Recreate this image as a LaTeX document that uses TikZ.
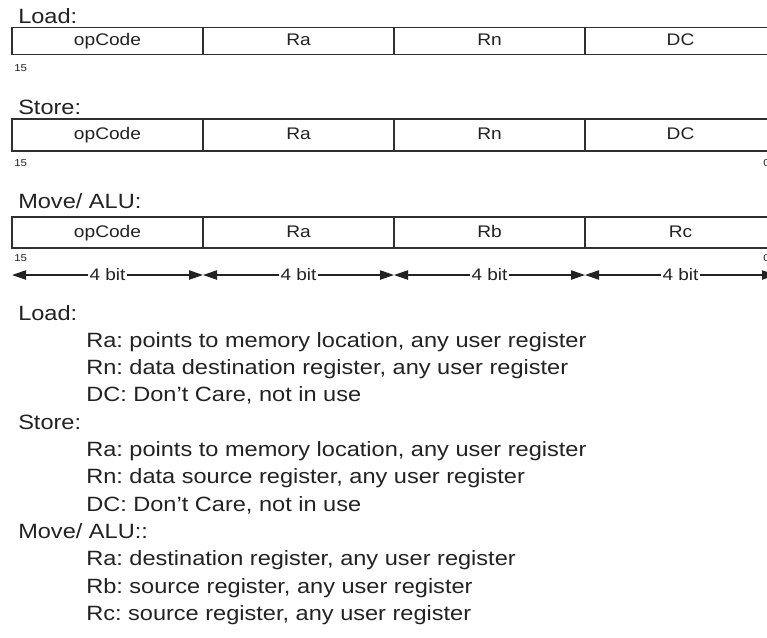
\documentclass[tikz,border=0pt]{standalone}
\usepackage{fontspec}
\setmainfont{Liberation Sans}[FakeStretch=1.14]
\usetikzlibrary{arrows.meta,positioning}
\frenchspacing

\definecolor{ink}{HTML}{222222}
\definecolor{rule}{HTML}{303030}

\tikzset{
  head/.style={anchor=base west, inner sep=0pt, text=ink, font=\fontsize{15.5}{18}\selectfont},
  field/.style={draw=rule, line width=1.1pt, minimum width=143.25pt, inner sep=0pt,
    text height=9.5pt, text depth=2.5pt, text=ink, font=\fontsize{12.6}{14}\selectfont},
  bitno/.style={anchor=base west, inner sep=0pt, text=ink, font=\fontsize{7.5}{9}\selectfont},
  bitspan/.style={draw=ink, line width=0.9pt, {Triangle[length=10.5pt,width=7pt]}-{Triangle[length=10.5pt,width=7pt]}},
  bitlabel/.style={fill=white, inner sep=1.5pt, text=ink, font=\fontsize{12.5}{14}\selectfont}
}

\begin{document}
\begin{tikzpicture}[x=0.75pt, y=-0.75pt]
  \useasboundingbox (0,0) rectangle (767,637);
  \clip (0,0) rectangle (767,637);

  % Load format
  \node[head] (loadhead) at (18,23) {Load:};
  \foreach \txt [count=\i] in {opCode,Ra,Rn,DC}
    \node[field, minimum height=20.6pt] (load\i) at ({107.5+191*(\i-1)},41) {\txt};
  \node[bitno] (loadmsb) at (14,71) {15};

  % Store format
  \node[head] (storehead) at (18,114) {Store:};
  \foreach \txt [count=\i] in {opCode,Ra,Rn,DC}
    \node[field, minimum height=24pt] (store\i) at ({107.5+191*(\i-1)},135) {\txt};
  \node[bitno] (storemsb) at (14,166) {15};
  \node[bitno] (storelsb) at (763,166) {0};

  % Move / ALU format
  \node[head] (aluhead) at (18,208) {Move/ ALU:};
  \foreach \txt [count=\i] in {opCode,Ra,Rb,Rc}
    \node[field, minimum height=23.25pt] (alu\i) at ({107.5+191*(\i-1)},232.5) {\txt};
  \node[bitno] (alumsb) at (14,261) {15};
  \node[bitno] (alulsb) at (763,261) {0};

  % Field widths
  \foreach \i in {1,...,5}
    \coordinate (w\i) at ({12+191*(\i-1)},275);
  \foreach \i in {1,...,4} {
    \pgfmathtruncatemacro{\j}{\i+1}
    \draw[bitspan] (w\i) -- node[bitlabel] (bit\i) {4 bit} (w\j);
  }

  % Field descriptions
  \node[head] (loadnote) at (18,320) {Load:};
  \node[head] (loadra) at (86,347.3) {Ra: points to memory location, any user register};
  \node[head] (loadrn) at (86,374.6) {Rn: data destination register, any user register};
  \node[head] (loaddc) at (86,401.9) {DC: Don’t Care, not in use};
  \node[head] (storenote) at (18,429.2) {Store:};
  \node[head] (storera) at (86,456.5) {Ra: points to memory location, any user register};
  \node[head] (storern) at (86,483.8) {Rn: data source register, any user register};
  \node[head] (storedc) at (86,511.1) {DC: Don’t Care, not in use};
  \node[head] (alunote) at (18,538.4) {Move/ ALU::};
  \node[head] (alura) at (86,565.7) {Ra: destination register, any user register};
  \node[head] (alurb) at (86,593) {Rb: source register, any user register};
  \node[head] (alurc) at (86,620.3) {Rc: source register, any user register};
\end{tikzpicture}
\end{document}
